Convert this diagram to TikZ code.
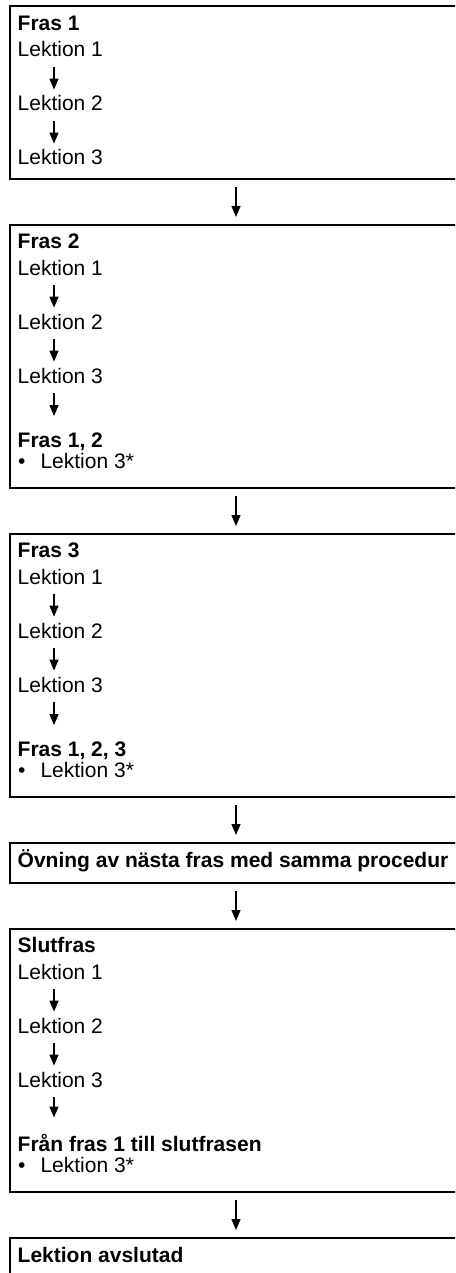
\documentclass[tikz,border=0pt]{standalone}
\usepackage{fontspec}
\setmainfont{Liberation Sans}
\usetikzlibrary{arrows.meta,positioning}

\tikzset{
  phasebox/.style={draw,line width=2.2pt,outer sep=0pt,inner sep=0pt,anchor=north west,minimum width=480pt},
  txt/.style={anchor=base west,inner sep=0pt,font=\fontsize{21}{25}\selectfont},
  head/.style={txt,font=\fontsize{21}{25}\selectfont\bfseries},
  arr/.style={-{Triangle[width=9pt,length=11pt]},line width=1.3pt},
}

\begin{document}
\begin{tikzpicture}[x=1pt,y=-1pt]
  \useasboundingbox (0,0) rectangle (455,1273);
  \clip (0,0) rectangle (455,1273);
  % phase boxes
  \node[phasebox,minimum height=173pt] (p1) at (10,6) {};
  \node[phasebox,minimum height=263pt] (p2) at (10,225) {};
  \node[phasebox,minimum height=263pt] (p3) at (10,534) {};
  \node[phasebox,minimum height=40pt] (nx) at (10,843) {};
  \node[phasebox,minimum height=263pt] (p4) at (10,929) {};
  \node[phasebox,minimum height=80pt] (done) at (10,1238) {};
  \foreach \u/\v in {p1/p2,p2/p3,p3/nx,nx/p4,p4/done}
    \draw[arr] ([xshift=-14pt,yshift=-8pt]\u.south) -- ([xshift=-14pt,yshift=8pt]\v.north);

  % titles
  \node[head] (t1) at (17.5,31) {Fras 1};
  \node[head] (t2) at (17.5,248) {Fras 2};
  \node[head] (t3) at (17.5,557) {Fras 3};
  \node[head] (tn) at (17.5,867) {Övning av nästa fras med samma procedur};
  \node[head] (t4) at (17.5,952) {Slutfras};
  \node[head] (td) at (17.5,1262) {Lektion avslutad};

  % lessons in each phase
  \foreach \p/\y in {1/57,2/275,3/584,4/979}{
    \foreach \n in {1,2,3}
      \node[txt] (l\p\n) at (17.5,{\y+54*(\n-1)}) {Lektion \n};
    \foreach \a/\b in {1/2,2/3}
      \draw[arr] ([xshift=36.5pt,yshift=-10pt]l\p\a.base west) -- ([xshift=36.5pt,yshift=6pt]l\p\b.north west);
  }

  % review of earlier phrases
  \node[head] (s2) at (17.5,447) {Fras 1, 2};
  \node[txt] (r2) at (18,468) {•\hspace{15pt}Lektion 3*};
  \node[head] (s3) at (17.5,756) {Fras 1, 2, 3};
  \node[txt] (r3) at (18,777) {•\hspace{15pt}Lektion 3*};
  \node[head] (s4) at (17.5,1151) {Från fras 1 till slutfrasen};
  \node[txt] (r4) at (18,1172) {•\hspace{15pt}Lektion 3*};
  \foreach \p in {2,3,4}
    \draw[arr] ([xshift=36.5pt,yshift=-10pt]l\p3.base west) -- ([xshift=36.5pt,yshift=16pt]s\p.north west);
\end{tikzpicture}
\end{document}
